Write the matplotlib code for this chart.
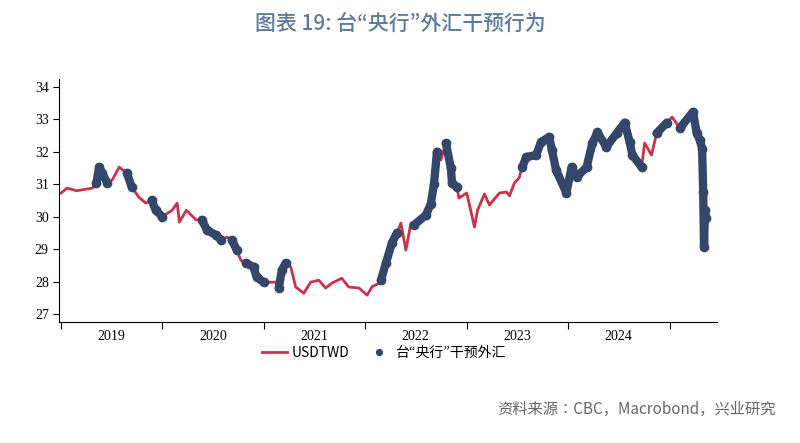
import matplotlib
matplotlib.use("Agg")
import matplotlib.pyplot as plt
import numpy as np
import pandas as pd

plt.rcParams["font.family"] = ["Noto Sans CJK JP", "DejaVu Sans"]

dates = ["2019-01-01","2019-01-22","2019-02-26","2019-04-24","2019-05-08","2019-05-18","2019-05-29","2019-06-16",
"2019-07-04","2019-07-29","2019-08-26","2019-09-13","2019-10-08","2019-11-02","2019-11-23","2019-12-08","2019-12-31",
"2020-02-05","2020-02-23","2020-03-02","2020-03-27","2020-05-01","2020-05-22","2020-06-09","2020-07-12","2020-07-30",
"2020-08-20","2020-09-07","2020-09-25","2020-10-09","2020-10-27","2020-11-24","2020-12-05","2020-12-30",
"2021-02-12","2021-02-23","2021-03-06","2021-03-20","2021-04-07","2021-04-25","2021-05-24","2021-06-18","2021-07-17",
"2021-08-11","2021-09-02","2021-10-08","2021-11-02","2021-12-09","2022-01-07","2022-01-25","2022-02-19","2022-02-26",
"2022-03-16","2022-04-07","2022-04-25","2022-05-09","2022-05-27","2022-06-14","2022-06-25","2022-08-07","2022-08-25",
"2022-09-05","2022-09-16","2022-09-30","2022-10-18","2022-11-05","2022-11-09","2022-11-27","2022-12-04",
"2023-01-01","2023-01-11","2023-01-29","2023-02-09","2023-03-06","2023-03-24","2023-04-29","2023-05-24","2023-06-04",
"2023-06-22","2023-07-09","2023-07-20","2023-08-04","2023-09-08","2023-09-26","2023-10-25","2023-11-04","2023-11-19",
"2023-12-26","2024-01-14","2024-02-01","2024-03-08","2024-03-29","2024-04-16","2024-05-18","2024-06-24","2024-07-23",
"2024-08-10","2024-08-20","2024-09-22","2024-10-03","2024-10-28","2024-11-15","2024-12-22","2025-01-10","2025-02-07",
"2025-03-26","2025-04-09","2025-04-20","2025-04-28","2025-05-02","2025-05-05","2025-05-08","2025-05-12"]
usdtwd = [30.73,30.88,30.80,30.88,31.04,31.53,31.34,31.04,
31.13,31.53,31.34,30.90,30.60,30.42,30.50,30.20,30.00,
30.20,30.42,29.83,30.20,29.90,29.90,29.59,29.43,29.28,
29.37,29.28,28.97,28.66,28.57,28.45,28.14,27.98,
27.98,27.80,28.35,28.57,28.45,27.83,27.64,27.98,28.04,
27.80,27.95,28.10,27.83,27.80,27.58,27.84,27.95,28.04,
28.57,29.20,29.50,29.80,28.97,29.80,29.74,30.05,30.40,
31.00,32.00,31.75,32.27,31.50,31.04,30.90,30.57,
30.73,30.36,29.68,30.20,30.70,30.36,30.73,30.76,30.64,
31.04,31.20,31.53,31.84,31.90,32.30,32.46,32.06,31.44,
30.73,31.53,31.22,31.53,32.27,32.60,32.15,32.57,32.90,
32.30,31.90,31.53,32.27,31.90,32.57,32.90,33.07,32.73,
33.23,32.57,32.36,32.10,30.76,29.06,30.20,29.95]
intervention = ("rrrrddddrrddrrdddrrrrrddddrddrdddd" + "rddd" + "r" * 13 + "dddd" + "rrr" + "ddddd" + "r"
                + "dddd" + "r" + "r" * 11 + "d" * 19 + "rr" + "dd" + "r" + "d" * 9)

d = pd.to_datetime(dates)
v = np.array(usdtwd)
m = np.array([c == "d" for c in intervention])

red = "#c8334a"
navy = "#34476a"
fig = plt.figure(figsize=(8, 4.43), dpi=100)
ax = fig.add_axes([0.074, 0.273, 0.822, 0.549])
ax.plot(d, v, color=red, lw=2, label="USDTWD", zorder=2)
vm = np.where(m, v, np.nan)
ax.plot(d, vm, color=navy, lw=6, solid_capstyle="round", zorder=3)
ax.plot(d[m], v[m], "o", color=navy, ms=6, label="台“央行”干预外汇", zorder=4)

ax.set_ylim(26.75, 34.25)
ax.set_yticks(range(27, 35))
ax.set_xlim(pd.Timestamp("2018-12-25"), pd.Timestamp("2025-06-20"))
years = [2019, 2020, 2021, 2022, 2023, 2024, 2025]
ax.set_xticks([pd.Timestamp(f"{y}-01-01") for y in years])
ax.set_xticklabels([])
ax.set_xticks([pd.Timestamp(f"{y}-07-01") for y in years[:-1]], minor=True)
ax.set_xticklabels([str(y) for y in years[:-1]], minor=True, fontfamily="Liberation Serif", fontsize=10)
ax.tick_params(axis="x", which="minor", length=0, pad=6)
ax.tick_params(axis="x", which="major", length=5, direction="out")
ax.tick_params(axis="y", length=4)
for lab in ax.get_yticklabels():
    lab.set_fontfamily("Liberation Serif")
    lab.set_fontsize(10)
for s in ["top", "right"]:
    ax.spines[s].set_visible(False)

h, l = ax.get_legend_handles_labels()
fig.legend(h, l, loc="center", bbox_to_anchor=(0.48, 0.203), ncol=2, frameon=False,
           fontsize=10, handlelength=1.8, columnspacing=1.2, handletextpad=0.3, markerscale=0.7)
fig.text(0.5, 0.945, "图表 19: 台“央行”外汇干预行为", ha="center", va="center", fontsize=15,
         color="#5d7a99", fontweight="medium")
fig.text(0.97, 0.075, "资料来源：CBC，Macrobond，兴业研究", ha="right", va="center", fontsize=11,
         color="#666666")
fig.savefig("out.png", dpi=100)
